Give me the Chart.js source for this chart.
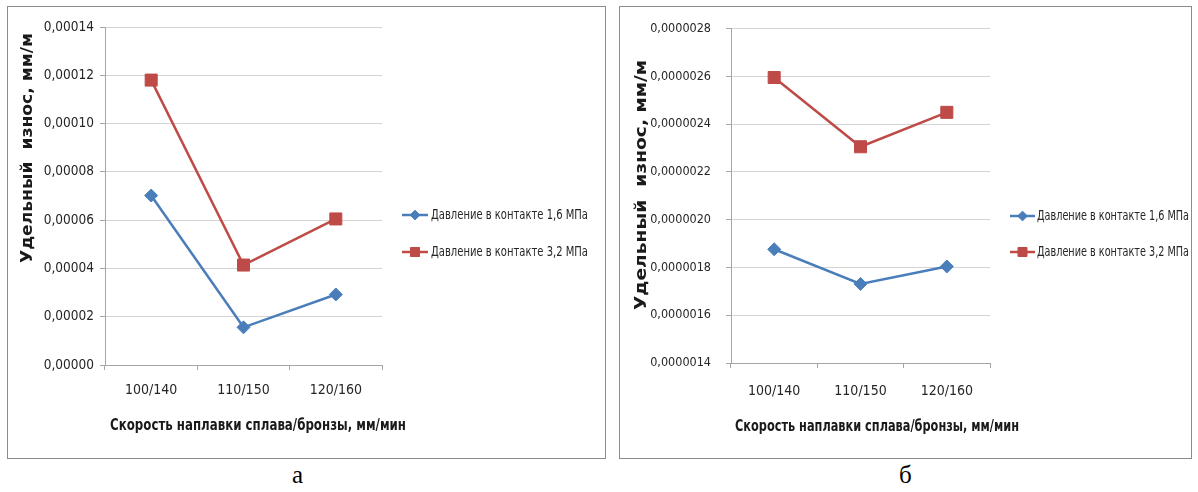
<!DOCTYPE html>
<html lang="ru">
<head>
<meta charset="UTF-8">
<title>Удельный износ</title>
<script src="https://cdn.jsdelivr.net/npm/chart.js@4.4.1/dist/chart.umd.min.js"></script>
<style>
  body { margin: 0; background: #fff; width: 1198px; height: 492px; position: relative; overflow: hidden; }
  .frame { position: absolute; top: 6px; height: 453px; box-sizing: border-box; border: 1.5px solid #8c8c8c; }
  .wrap { position: absolute; top: 6px; height: 453px; }
  #frameA, #wrapA { left: 7px; width: 599px; }
  #frameB, #wrapB { left: 619px; width: 573px; }
  .caption { position: absolute; top: 461px; font-family: "Liberation Serif", "DejaVu Serif", serif; font-size: 25px; color: #000; }
</style>
</head>
<body>
<div class="frame" id="frameA"></div>
<div class="frame" id="frameB"></div>
<div class="wrap" id="wrapA"><canvas id="chartA"></canvas></div>
<div class="wrap" id="wrapB"><canvas id="chartB"></canvas></div>
<div class="caption" style="left:292px">а</div>
<div class="caption" style="left:899px">б</div>

<script>
// data
const categories = ['100/140', '110/150', '120/160'];
const seriesNames = ['Давление в контакте 1,6 МПа', 'Давление в контакте 3,2 МПа'];
const yTitleText = 'Удельный  износ, мм/м';
const xTitleText = 'Скорость наплавки сплава/бронзы, мм/мин';

// panel а
const wearA16 = [0.0000702, 0.0000156, 0.0000292];
const wearA32 = [0.0001180, 0.0000414, 0.0000605];
const ticksA = [0, 0.00002, 0.00004, 0.00006, 0.00008, 0.00010, 0.00012, 0.00014];

// panel б
const wearB16 = [0.000001876, 0.000001731, 0.000001804];
const wearB32 = [0.000002595, 0.000002305, 0.000002449];
const ticksB = [0.0000014, 0.0000016, 0.0000018, 0.0000020, 0.0000022, 0.0000024, 0.0000026, 0.0000028];

const blue = '#4a7ebb';
const red = '#be4b48';
const gridGray = '#d4d4d4';
const axisGray = '#a6a6a6';
const tickText = '#262626';
const titleText = '#1a1a1a';
const condensed = '"DejaVu Sans Condensed", "DejaVu Sans", sans-serif';

// squeeze/stretch a string to the width it has in the original (Calibri-like look)
function fitText(ctx, text, x, y, width) {
  const w = ctx.measureText(text).width;
  ctx.save();
  ctx.translate(x, y);
  ctx.scale(width / w, 1);
  ctx.fillText(text, 0, 0);
  ctx.restore();
}

// axis titles and legend drawn by hand so they sit where the original has them
const panelText = {
  id: 'panelText',
  afterDraw(chart, args, o) {
    const ctx = chart.ctx;
    ctx.save();
    ctx.fillStyle = titleText;
    ctx.textAlign = 'center';
    ctx.textBaseline = 'middle';
    ctx.translate(o.yx, o.yy);
    ctx.rotate(-Math.PI / 2);
    ctx.font = o.yFont;
    fitText(ctx, yTitleText, 0, 0, o.yLen);
    ctx.restore();

    ctx.save();
    ctx.fillStyle = titleText;
    ctx.textAlign = 'center';
    ctx.textBaseline = 'middle';
    ctx.font = o.xFont;
    fitText(ctx, xTitleText, o.xx, o.xy, o.xLen);
    ctx.restore();

    // legend
    chart.data.datasets.forEach((ds, i) => {
      const y = o.legendRows[i];
      ctx.save();
      ctx.strokeStyle = ds.borderColor;
      ctx.lineWidth = 2.5;
      ctx.beginPath();
      ctx.moveTo(o.lx0, y);
      ctx.lineTo(o.lx1, y);
      ctx.stroke();
      ctx.fillStyle = ds.backgroundColor;
      ctx.strokeStyle = ds.borderColor;
      ctx.lineWidth = 1;
      Chart.helpers.drawPoint(ctx, {
        pointStyle: ds.pointStyle, radius: ds.pointRadius * 0.75, rotation: 0, borderWidth: 1
      }, (o.lx0 + o.lx1) / 2, y);
      ctx.fillStyle = tickText;
      ctx.font = o.legendFont;
      ctx.textAlign = 'left';
      ctx.textBaseline = 'middle';
      fitText(ctx, ds.label, o.tx, y, o.legendLen);
      ctx.restore();
    });
  }
};

function makeChart(id, low, high, tickValues, decimals, cfg) {
  return new Chart(document.getElementById(id), {
    type: 'line',
    data: {
      labels: categories,
      datasets: [
        { label: seriesNames[0], data: low, borderColor: blue, backgroundColor: blue,
          pointStyle: 'rectRot', pointRadius: 6.5, pointBorderWidth: 1, borderWidth: 2.5, tension: 0 },
        { label: seriesNames[1], data: high, borderColor: red, backgroundColor: red,
          pointStyle: 'rect', pointRadius: 8.5, pointBorderWidth: 1, borderWidth: 2.5, tension: 0 }
      ]
    },
    options: {
      responsive: true,
      maintainAspectRatio: false,
      animation: false,
      layout: { padding: { top: cfg.top, right: cfg.right, left: 0, bottom: 0 } },
      plugins: {
        legend: { display: false },
        tooltip: { enabled: false },
        panelText: cfg.text
      },
      scales: {
        x: {
          offset: true,
          grid: { offset: true, drawOnChartArea: false, drawTicks: true, tickLength: 5, color: axisGray },
          border: { color: axisGray, width: 1 },
          ticks: { font: { family: condensed, size: 14 }, color: tickText, padding: cfg.xPad },
          afterFit: s => { s.height = cfg.xh; }
        },
        y: {
          min: tickValues[0],
          max: tickValues[tickValues.length - 1],
          grid: { color: gridGray, tickLength: 5, tickColor: axisGray },
          border: { color: axisGray, width: 1 },
          ticks: {
            font: { family: condensed, size: cfg.yFontSize },
            color: tickText,
            padding: cfg.yPad,
            callback: v => Number(v).toFixed(decimals).replace('.', ',')
          },
          afterBuildTicks: s => { s.ticks = tickValues.map(v => ({ value: v })); },
          afterFit: s => { s.width = cfg.yw; }
        }
      }
    },
    plugins: [panelText]
  });
}

makeChart('chartA', wearA16, wearA32, ticksA, 5, {
  top: 21, right: 224, yw: 98, xh: 94, xPad: 12, yPad: 6, yFontSize: 13.5,
  text: {
    yx: 21, yy: 142, yLen: 230, yFont: 'bold 16px "DejaVu Sans", sans-serif',
    xx: 251, xy: 420, xLen: 296, xFont: 'bold 16px ' + condensed,
    lx0: 395, lx1: 421, tx: 424, legendRows: [209, 246], legendLen: 157, legendFont: '14px ' + condensed
  }
});

makeChart('chartB', wearB16, wearB32, ticksB, 7, {
  top: 22, right: 202, yw: 112, xh: 96, xPad: 15, yPad: 15, yFontSize: 12.5,
  text: {
    yx: 23, yy: 179, yLen: 250, yFont: 'bold 16px "DejaVu Sans", sans-serif',
    xx: 258, xy: 421, xLen: 284, xFont: 'bold 16px ' + condensed,
    lx0: 391, lx1: 416, tx: 418, legendRows: [210, 246], legendLen: 152, legendFont: '14px ' + condensed
  }
});
</script>
</body>
</html>
